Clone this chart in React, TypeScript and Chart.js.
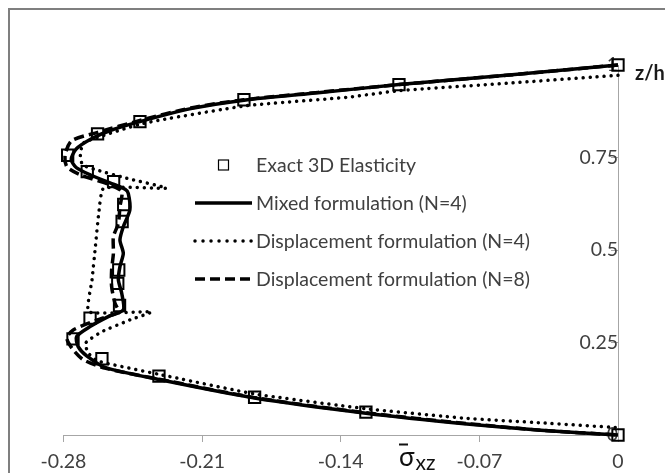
import React, { useEffect, useRef } from "react";
import { Chart, registerables } from "chart.js";

Chart.register(...registerables);

// ---------------- data ----------------
const xTickValues = [-0.28, -0.21, -0.14, -0.07, 0];
const xTickLabels = ["-0.28", "-0.21", "-0.14", "-0.07", "0"];
const yTickValues = [0, 0.25, 0.5, 0.75, 1];
const yTickLabels = ["0", "0.25", "0.5", "0.75", "1"];

const seriesNames = [
  "Exact 3D Elasticity",
  "Mixed formulation (N=4)",
  "Displacement formulation (N=4)",
  "Displacement formulation (N=8)",
];

const exactX = [0, -0.1106, -0.1889, -0.2414, -0.2628, -0.2779, -0.268, -0.2547, -0.2496, -0.2504, -0.2521, -0.2526, -0.2517, -0.2666, -0.2752, -0.2606, -0.2318, -0.1835, -0.1273, 0];
const exactZ = [1, 0.947, 0.906, 0.847, 0.814, 0.756, 0.712, 0.685, 0.623, 0.577, 0.446, 0.41, 0.35, 0.316, 0.26, 0.206, 0.159, 0.102, 0.062, 0];

const mixedX = [0, -0.0549, -0.1106, -0.1514, -0.1889, -0.2157, -0.2414, -0.2564, -0.2661, -0.2736, -0.2761, -0.2736, -0.2661, -0.2553, -0.2489, -0.2473, -0.2465, -0.2498, -0.2515, -0.2498, -0.2515, -0.2523, -0.2506, -0.2498, -0.2574, -0.2666, -0.2734, -0.2726, -0.2683, -0.2586, -0.2318, -0.1835, -0.1273, -0.0763, -0.039, 0];
const mixedZ = [1, 0.973, 0.947, 0.925, 0.905, 0.882, 0.847, 0.823, 0.8, 0.773, 0.745, 0.723, 0.702, 0.679, 0.664, 0.653, 0.608, 0.563, 0.527, 0.491, 0.455, 0.419, 0.383, 0.338, 0.32, 0.293, 0.266, 0.239, 0.214, 0.182, 0.15, 0.1, 0.059, 0.03, 0.013, 0];

const disp4X = [0, -0.055, -0.11, -0.1363, -0.1874, -0.2398, -0.2699, -0.2715, -0.2704, -0.263, -0.2482, -0.228, -0.2597, -0.2622, -0.2639, -0.2656, -0.2673, -0.2355, -0.2465, -0.2607, -0.269, -0.2674, -0.2628, -0.2318, -0.1835, -0.1273, -0.0763, -0.0394, 0];
const disp4Z = [0.972, 0.951, 0.931, 0.913, 0.89, 0.842, 0.79, 0.755, 0.73, 0.716, 0.694, 0.667, 0.667, 0.599, 0.509, 0.419, 0.333, 0.333, 0.311, 0.279, 0.248, 0.221, 0.2, 0.164, 0.111, 0.071, 0.045, 0.033, 0.02];

const disp8X = [0, -0.0549, -0.1106, -0.1514, -0.1889, -0.2157, -0.2414, -0.2628, -0.2759, -0.2792, -0.2783, -0.2714, -0.2566, -0.2506, -0.2515, -0.2523, -0.2548, -0.2548, -0.2557, -0.2557, -0.254, -0.2523, -0.263, -0.2751, -0.2783, -0.2751, -0.2699, -0.2586, -0.2318, -0.1835, -0.1273, -0.0763, -0.039, 0];
const disp8Z = [1, 0.973, 0.947, 0.926, 0.906, 0.884, 0.85, 0.818, 0.795, 0.757, 0.725, 0.703, 0.676, 0.658, 0.617, 0.572, 0.536, 0.491, 0.446, 0.401, 0.356, 0.333, 0.311, 0.284, 0.261, 0.23, 0.203, 0.18, 0.151, 0.101, 0.06, 0.031, 0.013, 0];

const xTitleMain = "σ";
const xTitleSub = "xz";
const yTitle = "z/h";

const toPts = (xs: number[], zs: number[]) => xs.map((x, i) => ({ x, y: zs[i] }));

const FONT = "Lato, 'Open Sans', sans-serif";
const TEXT = "#404040";
const AXIS = "#a6a6a6";

const DOT_DASH = [0.01, 7];
const DASH = [10, 5];

const overlayPlugin = {
  id: "overlay",
  afterDraw(chart: any) {
    const ctx = chart.ctx;
    const ds = chart.data.datasets;
    ctx.save();
    // legend
    const lineX0 = 195;
    const lineX1 = 252;
    const textX = 256;
    const rowY0 = 165;
    const rowDY = 38;
    ctx.font = `19.5px ${FONT}`;
    ctx.fillStyle = TEXT;
    ctx.textBaseline = "middle";
    ctx.textAlign = "left";
    ds.forEach((d: any, i: number) => {
      const y = rowY0 + i * rowDY;
      ctx.save();
      ctx.strokeStyle = "#000";
      if (i === 0) {
        ctx.lineWidth = 1.2;
        ctx.strokeRect(218.5, y - 5, 10, 10);
      } else {
        ctx.lineWidth = d.borderWidth;
        ctx.lineCap = d.borderCapStyle || "butt";
        ctx.setLineDash(i === 2 ? [0.01, 8] : d.borderDash || []);
        ctx.beginPath();
        ctx.moveTo(lineX0, y);
        ctx.lineTo(lineX1, y);
        ctx.stroke();
      }
      ctx.restore();
      ctx.fillText(d.label, textX, y + 1);
    });
    // x axis title: sigma with overbar and subscript
    ctx.fillStyle = "#111";
    ctx.textBaseline = "alphabetic";
    ctx.font = `26px ${FONT}`;
    ctx.fillText(xTitleMain, 399, 466);
    const sw = ctx.measureText(xTitleMain).width;
    ctx.fillRect(399, 443.5, 9, 2);
    ctx.font = `21px ${FONT}`;
    ctx.fillText(xTitleSub, 399 + sw + 1, 470);
    // y axis title
    ctx.font = `bold 20px ${FONT}`;
    ctx.fillStyle = "#1a1a1a";
    ctx.fillText(yTitle, 635, 80);
    ctx.restore();
  },
};

export default function App() {
  const ref = useRef<HTMLCanvasElement | null>(null);
  useEffect(() => {
    if (!ref.current) return;
    const chart = new Chart(ref.current, {
      type: "scatter",
      data: {
        datasets: [
          {
            label: seriesNames[0],
            data: toPts(exactX, exactZ),
            showLine: false,
            pointStyle: "rect",
            pointRadius: 8,
            pointBorderWidth: 2,
            pointBorderColor: "#000",
            pointBackgroundColor: "rgba(255,255,255,0)",
            clip: false,
          },
          {
            label: seriesNames[1],
            data: toPts(mixedX, mixedZ),
            showLine: true,
            borderColor: "#000",
            borderWidth: 3.5,
            pointRadius: 0,
            tension: 0.25,
            clip: false,
          },
          {
            label: seriesNames[2],
            data: toPts(disp4X, disp4Z),
            showLine: true,
            borderColor: "#000",
            borderWidth: 3.5,
            borderDash: DOT_DASH,
            borderCapStyle: "round",
            pointRadius: 0,
            tension: 0.15,
            clip: false,
          },
          {
            label: seriesNames[3],
            data: toPts(disp8X, disp8Z),
            showLine: true,
            borderColor: "#000",
            borderWidth: 3.5,
            borderDash: DASH,
            pointRadius: 0,
            tension: 0.25,
            clip: false,
          },
        ],
      } as any,
      options: {
        animation: false,
        responsive: false,
        devicePixelRatio: 1,
        layout: { padding: { left: 63.5, right: 47, top: 65, bottom: 0 } },
        plugins: { legend: { display: false }, tooltip: { enabled: false } },
        scales: {
          x: {
            type: "linear",
            min: xTickValues[0],
            max: xTickValues[xTickValues.length - 1],
            afterBuildTicks: (s: any) => {
              s.ticks = xTickValues.map((v) => ({ value: v }));
            },
            afterFit: (s: any) => {
              s.height = 38;
            },
            ticks: {
              color: TEXT,
              font: { family: FONT, size: 19.5 },
              padding: 8,
              maxRotation: 0,
              autoSkip: false,
              callback: (_v: any, i: number) => xTickLabels[i],
            },
            grid: { drawOnChartArea: false, drawTicks: true, tickLength: 7, color: AXIS },
            border: { color: AXIS, width: 1 },
          },
          y: {
            type: "linear",
            min: yTickValues[0],
            max: yTickValues[yTickValues.length - 1],
            position: { x: 0 },
            afterBuildTicks: (s: any) => {
              s.ticks = yTickValues.map((v) => ({ value: v }));
            },
            ticks: {
              color: TEXT,
              font: { family: FONT, size: 19.5 },
              padding: 14,
              autoSkip: false,
              callback: (_v: any, i: number) => yTickLabels[i],
            },
            grid: { drawOnChartArea: false, drawTicks: true, tickLength: 7, color: AXIS },
            border: { color: AXIS, width: 1 },
          },
        },
      } as any,
      plugins: [overlayPlugin],
    });
    return () => chart.destroy();
  }, []);

  return (
    <div style={{ position: "fixed", left: 0, top: 0, width: 665, height: 473, background: "#fff", overflow: "hidden" }}>
      <div
        style={{
          position: "absolute",
          left: 8,
          top: 8,
          width: 700,
          height: 500,
          borderLeft: "2px solid #7f7f7f",
          borderTop: "2px solid #7f7f7f",
        }}
      />
      <canvas ref={ref} width={665} height={473} style={{ position: "absolute", left: 0, top: 0 }} />
    </div>
  );
}
